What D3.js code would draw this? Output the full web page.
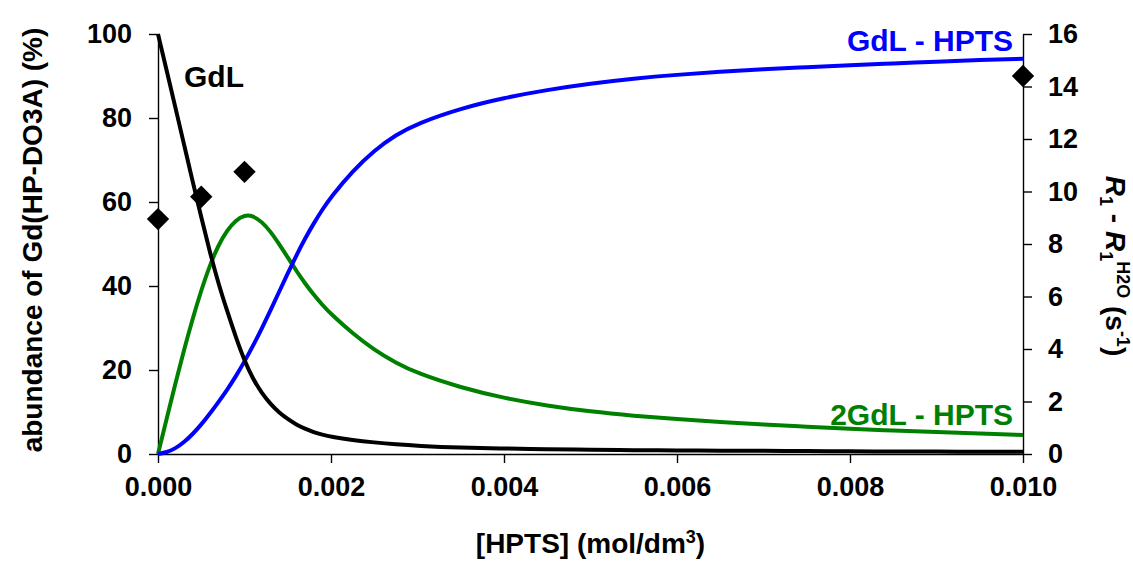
<!DOCTYPE html>
<html>
<head>
<meta charset="utf-8">
<script src="https://cdn.jsdelivr.net/npm/d3@7/dist/d3.min.js"></script>
<style>
  html, body { margin: 0; padding: 0; background: #fff; }
  svg text { font-family: "Liberation Sans", Arial, sans-serif; font-weight: bold; }
</style>
</head>
<body>
<svg id="chart" width="1133" height="561"></svg>
<script>
// [HPTS] concentration (mol/dm3)
const hpts = [0, 0.0001, 0.0002, 0.0003, 0.0004, 0.0005, 0.0006, 0.0007, 0.0008, 0.0009,
  0.0010, 0.0011, 0.0012, 0.0013, 0.0014, 0.0015, 0.0016, 0.0017, 0.0018, 0.0019,
  0.0020, 0.00225, 0.0025, 0.00275, 0.0030, 0.0035, 0.0040, 0.0045, 0.0050, 0.0055,
  0.0060, 0.0065, 0.0070, 0.0075, 0.0080, 0.0085, 0.0090, 0.0095, 0.0100];

// species distribution (% of Gd(HP-DO3A))
const freeGdL = [100, 91.3, 82.6, 73.8, 64.9, 56.4, 48.0, 40.5, 34.0, 27.8,
  22.2, 17.8, 14.5, 11.9, 9.9, 8.3, 7.0, 6.0, 5.2, 4.6,
  4.1, 3.3, 2.75, 2.3, 1.95, 1.5, 1.3, 1.15, 1.0, 0.9,
  0.85, 0.8, 0.75, 0.7, 0.65, 0.6, 0.58, 0.55, 0.52];
const gdlHpts = [0, 0.4, 1.3, 2.8, 4.7, 7.0, 9.6, 12.4, 15.3, 18.5,
  22.0, 25.8, 29.9, 34.2, 38.6, 43.0, 47.3, 51.3, 54.9, 58.2,
  61.2, 67.4, 72.3, 76.0, 78.7, 82.3, 84.8, 86.7, 88.2, 89.4,
  90.3, 91.0, 91.6, 92.1, 92.6, 93.0, 93.4, 93.8, 94.1];
const gdl2Hpts = [0, 8.4, 16.7, 24.7, 32.2, 39.0, 45.0, 49.8, 53.3, 55.7,
  56.9, 56.7, 55.3, 53.0, 50.0, 46.8, 43.6, 40.6, 37.9, 35.5,
  33.3, 28.7, 24.8, 21.7, 19.2, 15.8, 13.3, 11.5, 10.1, 9.1,
  8.3, 7.6, 7.0, 6.5, 6.0, 5.6, 5.2, 4.9, 4.5];

// measured relaxation rate enhancement R1 - R1(H2O) (s-1)
const r1Conc = [0, 0.0005, 0.0010, 0.0100];
const r1Values = [8.95, 9.8, 10.75, 14.4];

// axis ticks
const xTicks = [0, 0.002, 0.004, 0.006, 0.008, 0.010];
const yLeftTicks = [0, 20, 40, 60, 80, 100];
const yRightTicks = [0, 2, 4, 6, 8, 10, 12, 14, 16];

const svg = d3.select("#chart");
const margin = { left: 158, right: 110, top: 34, bottom: 107 };
const W = 1133, H = 561;

const x = d3.scaleLinear().domain([0, 0.010]).range([margin.left, W - margin.right]);
const yL = d3.scaleLinear().domain([0, 100]).range([H - margin.bottom, margin.top]);
const yR = d3.scaleLinear().domain([0, 16]).range([H - margin.bottom, margin.top]);

const tickFont = 27;

// axes
const gx = svg.append("g")
  .attr("transform", `translate(0,${yL(0)})`)
  .call(d3.axisBottom(x).tickValues(xTicks).tickFormat(d3.format(".3f"))
    .tickSize(9).tickSizeOuter(0).tickPadding(14));
const gl = svg.append("g")
  .attr("transform", `translate(${x(0)},0)`)
  .call(d3.axisLeft(yL).tickValues(yLeftTicks).tickSize(9).tickSizeOuter(0).tickPadding(17));
const gr = svg.append("g")
  .attr("transform", `translate(${x(0.010)},0)`)
  .call(d3.axisRight(yR).tickValues(yRightTicks).tickSize(9).tickSizeOuter(0).tickPadding(16));

[gx, gl, gr].forEach(g => {
  g.selectAll(".domain").attr("stroke", "#000").attr("stroke-width", 1.4);
  g.selectAll(".tick line").attr("stroke", "#000").attr("stroke-width", 1.4);
  g.selectAll(".tick text").attr("fill", "#000")
    .style("font-size", tickFont + "px")
    .style("font-family", "'Liberation Sans', Arial, sans-serif")
    .style("font-weight", "bold");
});

// species curves (smooth spline through the tabulated distribution)
const line = series => d3.line()
  .x((d, i) => x(hpts[i]))
  .y(d => yL(d))
  .curve(d3.curveBasis)(series);

const curves = [
  { values: gdl2Hpts, color: "#008000" },
  { values: gdlHpts, color: "#0000ff" },
  { values: freeGdL, color: "#000000" }
];
svg.append("g").selectAll("path")
  .data(curves)
  .join("path")
  .attr("d", d => line(d.values))
  .attr("fill", "none")
  .attr("stroke", d => d.color)
  .attr("stroke-width", 4)
  .attr("stroke-linejoin", "round");

// relaxivity points (right axis)
svg.append("g").selectAll("path")
  .data(r1Conc.map((c, i) => [c, r1Values[i]]))
  .join("path")
  .attr("d", d3.symbol(d3.symbolSquare, 250)())
  .attr("transform", d => `translate(${x(d[0])},${yR(d[1])}) rotate(45)`)
  .attr("fill", "#000");

// curve labels
const labels = [
  { text: "GdL", x: 184, y: 87, anchor: "start", color: "#000" },
  { text: "GdL - HPTS", x: 1013, y: 51, anchor: "end", color: "#0000ff" },
  { text: "2GdL - HPTS", x: 1013, y: 425, anchor: "end", color: "#008000" }
];
svg.append("g").selectAll("text")
  .data(labels)
  .join("text")
  .attr("x", d => d.x)
  .attr("y", d => d.y)
  .attr("text-anchor", d => d.anchor)
  .attr("fill", d => d.color)
  .style("font-size", "30px")
  .text(d => d.text);

// axis titles
const titleFont = 28, smallFont = 18;

const xt = svg.append("text")
  .attr("x", (x(0) + x(0.010)) / 2)
  .attr("y", 553)
  .attr("text-anchor", "middle")
  .style("font-size", titleFont + "px");
xt.append("tspan").text("[HPTS] (mol/dm");
xt.append("tspan").attr("dy", -10).style("font-size", smallFont + "px").text("3");
xt.append("tspan").attr("dy", 10).text(")");

svg.append("text")
  .attr("transform", `translate(42,${(yL(0) + yL(100)) / 2 - 4}) rotate(-90)`)
  .attr("text-anchor", "middle")
  .style("font-size", titleFont + "px")
  .text("abundance of Gd(HP-DO3A) (%)");

const rt = svg.append("text")
  .attr("transform", "translate(1106,266) rotate(90)")
  .attr("text-anchor", "middle")
  .style("font-size", titleFont + "px");
rt.append("tspan").style("font-style", "italic").text("R");
rt.append("tspan").attr("dy", 6).style("font-size", smallFont + "px").text("1");
rt.append("tspan").attr("dy", -6).text(" - ");
rt.append("tspan").style("font-style", "italic").text("R");
rt.append("tspan").attr("dy", 6).style("font-size", smallFont + "px").text("1");
rt.append("tspan").attr("dy", -17).style("font-size", smallFont + "px").text("H2O");
rt.append("tspan").attr("dy", 11).text(" (s");
rt.append("tspan").attr("dy", -11).style("font-size", smallFont + "px").text("-1");
rt.append("tspan").attr("dy", 11).text(")");
</script>
</body>
</html>
